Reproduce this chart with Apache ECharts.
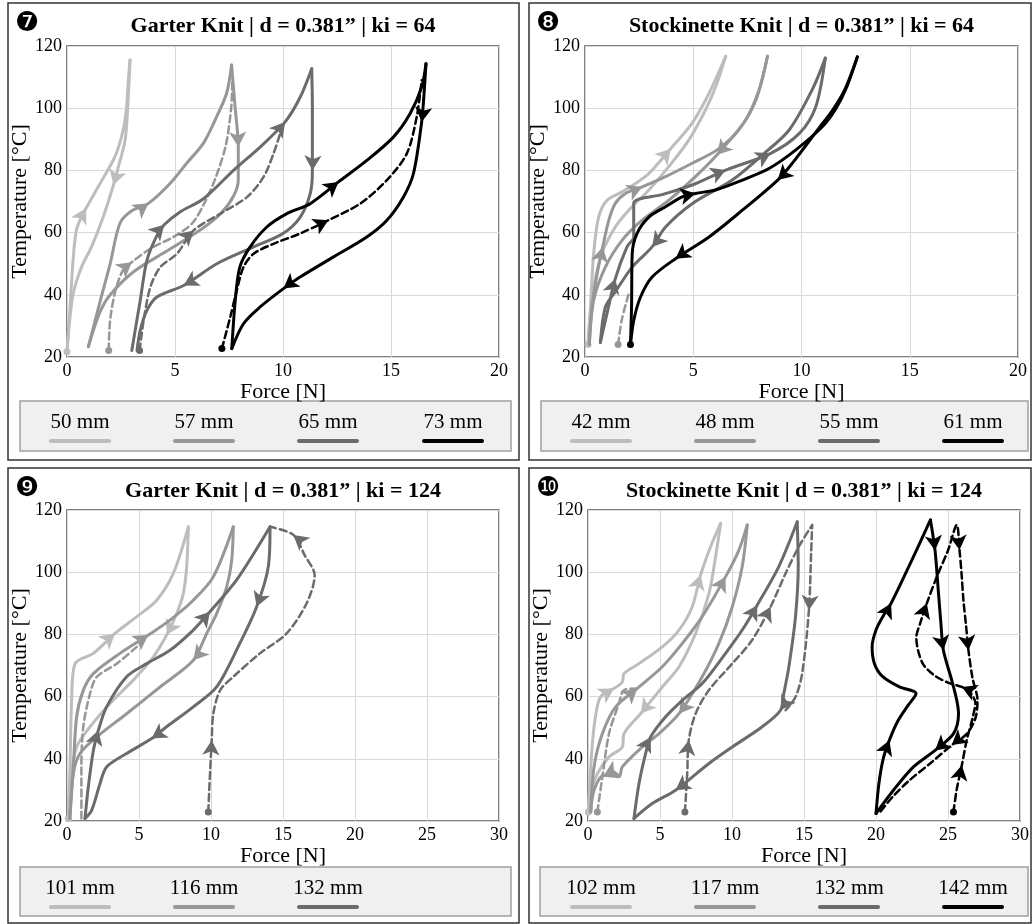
<!DOCTYPE html>
<html><head><meta charset="utf-8">
<script src="https://cdn.jsdelivr.net/npm/echarts@6/dist/echarts.min.js"></script>
<style>html,body{margin:0;padding:0;background:#fff;}#c{width:1032px;height:924px;}</style>
</head><body><div id="c"></div>
<script>
// ---------- DATA: [force N, temperature °C, flag] flag 1 = direction arrow, 2 = start dot ----------
// Panel 7: Garter Knit, ki = 64
const g64_legend = ['50 mm', '57 mm', '65 mm', '73 mm'];
const g64_50_heat = [[0,21.7,2],[0.14,36],[0.29,52],[0.42,60.3],[0.6,64],[0.88,67.8,1],[1.53,75.8],[2.22,84.4],[2.6,93],[2.76,100.5],[2.84,109],[2.92,115.5]];
const g64_50_cool = [[2.92,115.5],[2.81,100.2],[2.69,89.8],[2.38,81.2],[2.15,75.3,1],[1.68,65.1],[1.14,55.5],[0.68,49],[0.29,40.5],[0.11,30.8],[0,21.7]];
const g64_57_heat = [[0.99,23.3],[1.5,37],[2.0,50],[2.45,63],[3.0,67],[3.77,69.4,1],[4.77,75.8],[5.54,82.3],[6.31,88.7],[6.93,97.3],[7.39,104.8],[7.62,113.9]];
const g64_57_cool = [[7.62,113.9],[7.78,100.5],[7.93,87.6,1],[7.93,77],[7.7,71.6],[7.1,66],[6.2,61],[4.6,54],[3.1,47.5],[2.0,40],[1.5,34],[0.99,23.3]];
const g64_57_first = [[1.93,22.1,2],[2.0,32],[2.25,41.5],[2.6,48],[3.0,50.5,1],[3.9,55],[4.9,58.5],[5.8,63],[6.4,70],[6.9,78],[7.35,88],[7.6,100],[7.65,108]];
const g64_65_heat = [[3.0,22.1],[3.39,38.2],[3.7,51.1],[4.16,59],[4.5,62.5,1],[5.2,66.5],[6.32,70.9],[7.71,80],[8.94,87.5],[10.1,95.6,1],[10.8,103.6],[11.33,112.7]];
const g64_65_cool = [[11.33,112.7],[11.36,100],[11.36,91.8],[11.36,80,1],[11.26,72.5],[10.8,65],[10.0,59.7],[8.64,55.4],[6.94,50],[5.4,43,1],[4.16,39.3],[3.7,35],[3.39,28.6],[3.24,22.1]];
const g64_65_first = [[3.36,22.1,2],[3.55,31.8],[3.86,42.5],[4.32,48.9],[5.09,53.2],[5.86,60.7,1],[7.1,66.1],[8.33,71.4],[9.1,77.9],[9.56,85.4],[9.87,91.8],[10.02,95]];
const g64_73_heat = [[7.63,22.7],[7.79,38.2],[8.0,48.9],[8.48,55.4],[9.25,61.8],[10.18,66.1],[11.26,69.3],[12.57,76.3,1],[13.88,83.2],[15.11,90.7],[15.88,98.2],[16.42,106.8],[16.62,114.3]];
const g64_73_cool = [[16.62,114.3],[16.53,104.7],[16.42,95.6,1],[16.04,79],[15.57,71.4],[14.8,63.9],[13.88,58.6],[12.34,52.2],[10.79,45.7],[10.02,42,1],[8.94,36.1],[8.17,30.7],[7.63,22.7]];
const g64_73_first = [[7.17,22.7,2],[7.56,32.9],[7.86,41.4],[8.17,48.9],[8.64,53.2],[9.56,56.4],[10.79,59.7],[12.1,64,1],[13.57,69.3],[14.8,76.8],[15.73,85.4],[16.19,97.2],[16.42,109]];

// Panel 8: Stockinette Knit, ki = 64
const s64_legend = ['42 mm', '48 mm', '55 mm', '61 mm'];
const s64_42_heat = [[0.14,24,2],[0.25,36],[0.4,53.2],[0.63,65],[1.02,70.4],[1.71,73.1],[2.33,75.8],[2.95,79],[3.96,87,1],[4.95,95.2],[5.73,104.8],[6.5,116.7]];
const s64_42_cool = [[6.5,116.7],[6.04,107],[5.57,99.5],[4.8,89.8],[3.87,81.2],[2.95,73.7],[2.02,67.2],[1.4,61.8],[0.78,53.2],[0.4,42.5],[0.2,30.6],[0.14,24]];
const s64_48_heat = [[0.2,24],[0.32,36],[0.56,46.8],[0.82,55.4,1],[1.1,64],[1.4,69.4],[1.87,72.6],[2.64,74.7,1],[3.72,78],[4.95,82.3],[6.1,86.6],[7.1,93],[7.9,102.7],[8.43,116.7]];
const s64_48_cool = [[8.43,116.7],[8.04,105.9],[7.42,96.2],[6.1,85,1],[5.1,78],[3.87,70.4],[2.64,64],[1.71,57.5],[0.94,48.9],[0.4,38.2],[0.2,24]];
const s64_55_heat = [[0.71,24.7],[1.05,35],[1.4,45.2,1],[1.94,55.4],[2.25,58.6],[2.25,69.4],[3.6,72.3],[4.95,75.3],[6.5,80.1,1],[8.58,85.5,1],[9.9,91.9],[10.66,100.5],[11.1,116.1]];
const s64_55_cool = [[11.1,116.1],[10.5,106],[9.43,93],[8.2,85],[6.8,76.9],[4.95,69.3],[3.72,61.8],[3.1,55.4,1],[2.18,48.9],[1.4,41],[0.94,36],[0.71,24.7]];
const s64_55_first = [[1.53,24,2],[1.7,32],[2.02,40.3]];
const s64_61_heat = [[2.1,24,2],[2.15,36],[2.18,53.2],[2.4,59.7],[2.95,65],[3.72,68.3],[4.49,71.5],[5.1,72.6,1],[6.03,73.7],[7.27,76.9],[8.5,80.6],[9.74,86.6],[10.97,94.1],[11.6,100],[12.1,107],[12.58,116.5]];
const s64_61_cool = [[12.58,116.5],[12.0,106],[11.4,99],[10.9,94.5],[10.2,88],[9.6,82.5],[8.9,76.9,1],[7.27,67.2],[5.73,58.6],[4.18,51.6,1],[3.1,45.7],[2.56,39.2],[2.25,31.7],[2.1,24]];

// Panel 9: Garter Knit, ki = 124
const g124_legend = ['101 mm', '116 mm', '132 mm'];
const g124_101_heat = [[0.09,20.8,2],[0.21,37.4],[0.32,58.8],[0.56,70.6],[1.83,73.9],[3.33,80.3,1],[4.84,85.7],[6.23,91],[7.38,99.6],[8.43,114.6]];
const g124_101_cool = [[8.43,114.6],[8.31,101.8],[8.08,93.2],[7.62,86.7],[6.92,79.8,1],[6.0,72.8],[4.6,65.3],[2.99,57.8],[1.6,50.3],[0.67,43.8],[0.21,32],[0.09,20.8]];
const g124_116_heat = [[0.2,20.8],[0.44,37.4],[0.67,53.5],[1.13,62],[1.83,67.4],[3.68,73.9],[5.65,79.8,1],[7.15,84.6],[8.77,91],[10.16,98.5],[11.55,114.6]];
const g124_116_cool = [[11.55,114.6],[11.44,103.9],[11.09,95.3],[10.39,86.7],[9.7,80.3],[8.77,71.7,1],[6.46,63.1],[4.14,54.5],[2.06,47],[0.9,41.7],[0.44,35.2],[0.2,20.8]];
const g124_116_first = [[1.0,20.8],[1.0,37.4],[1.13,50.3],[1.6,61],[2.06,66.3],[3.45,70.6],[4.84,76],[5.65,79.8]];
const g124_132_heat = [[1.25,20.8],[1.48,31],[1.83,42.7],[2.18,49.2,1],[2.75,56.7],[4.14,66.4],[5.53,70.6],[7.15,74.9],[8.77,81.4],[9.93,87.3,1],[11.78,97.5],[14.1,114.6]];
const g124_132_cool = [[14.1,114.6],[13.98,101.8],[13.17,88.9,1],[12.0,77.1],[10.39,63.1],[8.77,56.7],[6.92,50.3],[5.88,46.5,1],[4.14,41.7],[2.75,37.4],[2.29,32],[1.71,23.4],[1.25,20.8]];
const g124_132_first = [[9.81,22.9,2],[9.93,35.2],[10.05,46,1],[10.16,54.5],[10.63,62],[11.55,66.4],[13.4,73.9],[15.25,80.3],[16.64,90],[17.2,99],[16.5,105.5],[15.72,112,1],[14.1,114.6]];

// Panel 10: Stockinette Knit, ki = 124
const s124_legend = ['102 mm', '117 mm', '132 mm', '142 mm'];
const s124_102_heat = [[0.02,22.9,2],[0.19,37.4],[0.42,50.3],[0.76,58.8],[1.23,61.5],[1.8,62.6,1],[2.38,64.7],[2.5,67.4],[3.54,70.6],[5.16,76],[6.32,81.4],[7.24,88.9],[7.82,99.1,1],[8.51,108.2],[9.21,115.7]];
const s124_102_cool = [[9.21,115.7],[8.86,105],[8.4,93.2],[7.47,80.3],[6.32,69.6],[5.16,63.1],[3.65,54.5,1],[2.5,48.1],[2.38,43.8],[1.46,40.6],[0.65,35.2],[0.19,28.8],[0.02,22.9]];
const s124_117_heat = [[0.19,22.9],[0.42,37.4],[1.0,48.1],[1.92,56.7],[3.42,62.6,1],[5.16,69.6],[6.55,77.1],[7.93,85.7],[9.55,98.5,1],[10.48,107.1],[11.06,115.2]];
const s124_117_cool = [[11.06,115.2],[10.71,101.8],[10.02,88.9],[9.09,77.1],[7.93,66.4],[6.32,54.5,1],[4.93,48.1],[3.77,43.8],[2.38,37.4],[2.15,34.2],[1.11,34.7,1],[0.42,29.9],[0.19,22.9]];
const s124_117_first = [[0.65,22.9,2],[1.0,34.2],[1.46,48.1],[2.15,57.8],[2.5,62.1],[3.42,62.6]];
const s124_132_heat = [[3.19,20.8],[3.54,32],[4.0,41.7],[4.35,47,1],[5.39,53.5],[6.55,58.8],[7.93,64.2],[9.55,73.9],[10.71,81.4],[11.75,89.4,1],[13.25,101.8],[14.53,116.2]];
const s124_132_cool = [[14.53,116.2],[14.6,101.8],[14.41,85.7],[13.95,69.6],[13.6,61],[13.37,55.6,1],[12.1,50.3],[10.02,43.8],[8.4,38.5],[6.08,29.9,1],[4.46,25.6],[3.19,20.8]];
const s124_132_first = [[6.73,22.9,2],[6.89,35.2],[7.0,46,1],[7.47,54.5],[8.4,62.1],[10.02,70.6],[11.4,78.2],[12.68,88.9,1],[13.72,99.6],[14.64,108.2],[15.57,115.2],[15.5,107],[15.34,87.8,1],[14.87,67.4],[14.41,59.9],[13.72,55.6]];
const s124_142_heat = [[20,22.4],[20.2,32],[20.5,40],[20.93,46,1],[21.5,52],[22.2,57],[22.78,61],[21.63,63.1],[20.47,66.4],[19.89,70.6],[19.73,76],[20.0,81.4],[20.47,85.7],[21.05,90,1],[22.4,103],[23.78,116.8]];
const s124_142_cool = [[23.78,116.8],[24.1,107,1],[24.34,93.2],[24.5,84],[24.68,74.9,1],[25.26,65.3],[25.61,58.8],[25.73,54.5],[25.38,48.1],[24.1,42.7,1],[22.6,37.4],[21.21,29.9],[20,22.4]];
const s124_142_first = [[25.38,22.9,2],[25.6,30],[25.96,37.9,1],[26.3,46],[26.7,53],[26.9,58],[26.5,61.5],[25.96,63.1,1],[25,64.5],[24,67],[23.2,71],[22.8,79],[23.1,84],[23.53,90,1],[24.22,98.5],[25.0,107],[25.61,115.2],[25.8,107.1,1],[25.95,99],[26.07,91],[26.25,83],[26.42,74.9,1],[26.7,66],[27.05,58.8],[26.9,53],[26.3,48],[25.26,44.4,1],[23.76,38.5],[22.3,33],[21.2,28],[20.3,23]];

const xTicks20 = [0, 5, 10, 15, 20];
const xTicks30 = [0, 5, 10, 15, 20, 25, 30];
const yTicks = [20, 40, 60, 80, 100, 120];

// ---------- STYLE / LAYOUT ----------
const SHADES = ['#bdbdbd', '#979797', '#6b6b6b', '#000000'];
const SERIF = "'Liberation Serif','Times New Roman',serif";

const panels = [
  { badge: '\u277C', title: 'Garter Knit | d = 0.381\u201D | ki = 64', ticks: xTicks20, legend: g64_legend,
    box: [8, 3, 511, 457], grid: [67, 46, 432, 311], legBox: [20, 401, 491, 50], legX: [80, 204, 328, 453],
    curves: [[g64_50_heat,0,0],[g64_50_cool,0,0],[g64_57_heat,1,0],[g64_57_cool,1,0],[g64_57_first,1,1],
             [g64_65_heat,2,0],[g64_65_cool,2,0],[g64_65_first,2,1],[g64_73_heat,3,0],[g64_73_cool,3,0],[g64_73_first,3,1]] },
  { badge: '\u277D', title: 'Stockinette Knit | d = 0.381\u201D | ki = 64', ticks: xTicks20, legend: s64_legend,
    box: [529, 3, 502, 457], grid: [585, 46, 433, 311], legBox: [541, 401, 487, 50], legX: [601, 725, 849, 973],
    curves: [[s64_42_heat,0,0],[s64_42_cool,0,0],[s64_48_heat,1,0],[s64_48_cool,1,0],
             [s64_55_heat,2,0],[s64_55_cool,2,0],[s64_55_first,1,1],[s64_61_heat,3,0],[s64_61_cool,3,0]] },
  { badge: '\u277E', title: 'Garter Knit | d = 0.381\u201D | ki = 124', ticks: xTicks30, legend: g124_legend,
    box: [8, 468, 511, 455], grid: [67, 510, 432, 311], legBox: [20, 867, 491, 49], legX: [80, 204, 328],
    curves: [[g124_101_heat,0,0],[g124_101_cool,0,0],[g124_116_heat,1,0],[g124_116_cool,1,0],[g124_116_first,1,1],
             [g124_132_heat,2,0],[g124_132_cool,2,0],[g124_132_first,2,1]] },
  { badge: '\u277F', title: 'Stockinette Knit | d = 0.381\u201D | ki = 124', ticks: xTicks30, legend: s124_legend,
    box: [529, 468, 502, 455], grid: [588, 510, 432, 311], legBox: [540, 867, 488, 49], legX: [601, 725, 849, 973],
    curves: [[s124_102_heat,0,0],[s124_102_cool,0,0],[s124_117_heat,1,0],[s124_117_cool,1,0],[s124_117_first,1,1],
             [s124_132_heat,2,0],[s124_132_cool,2,0],[s124_132_first,2,1],
             [s124_142_heat,3,0],[s124_142_cool,3,0],[s124_142_first,3,1]] }
];

const chart = echarts.init(document.getElementById('c'), null, { renderer: 'canvas' });
const grids = [], xAxes = [], yAxes = [], series = [], graphics = [];

panels.forEach((p, i) => {
  const [gl, gt, gw, gh] = p.grid;
  grids.push({ left: gl, top: gt, width: gw, height: gh, show: true, borderColor: '#555', borderWidth: 1.5, backgroundColor: 'transparent' });
  const xmax = p.ticks[p.ticks.length - 1];
  xAxes.push({
    type: 'value', gridIndex: i, min: p.ticks[0], max: xmax, interval: p.ticks[1] - p.ticks[0],
    axisLine: { show: false }, axisTick: { show: false },
    axisLabel: { fontFamily: SERIF, fontSize: 18, color: '#000', margin: 5 },
    splitLine: { show: true, lineStyle: { color: '#d9d9d9', width: 1 } },
    name: 'Force [N]', nameLocation: 'middle', nameGap: 18,
    nameTextStyle: { fontFamily: SERIF, fontSize: 22, color: '#000' }
  });
  yAxes.push({
    type: 'value', gridIndex: i, min: yTicks[0], max: yTicks[yTicks.length - 1], interval: yTicks[1] - yTicks[0],
    axisLine: { show: false }, axisTick: { show: false },
    axisLabel: { fontFamily: SERIF, fontSize: 18, color: '#000', margin: 5 },
    splitLine: { show: true, lineStyle: { color: '#d9d9d9', width: 1 } },
    name: 'Temperature [\u00B0C]', nameLocation: 'middle', nameGap: 31, nameRotate: 90,
    nameTextStyle: { fontFamily: SERIF, fontSize: 22, color: '#000' }
  });
  p.curves.forEach(([arr, shade, dashed]) => {
    const col = SHADES[shade];
    series.push({
      type: 'line', xAxisIndex: i, yAxisIndex: i, smooth: 0.3,
      symbol: 'none', showSymbol: true, silent: true, animation: false,
      z: 2 + shade,
      lineStyle: { color: col, width: dashed ? 2.5 : 3, type: dashed ? [7, 4] : 'solid', cap: 'round', join: 'round' },
      itemStyle: { color: col },
      data: arr.map(pt => {
        if (pt[2] === 1) return { value: [pt[0], pt[1]], symbol: 'arrow', symbolSize: [13, 15], symbolRotate: 0, itemStyle: { color: col } };
        if (pt[2] === 2) return { value: [pt[0], pt[1]], symbol: 'circle', symbolSize: 7, itemStyle: { color: col } };
        return [pt[0], pt[1]];
      }),
      _raw: arr, _panel: i
    });
  });
  // panel frame
  const [bx, by, bw, bh] = p.box;
  graphics.push({ type: 'rect', shape: { x: bx, y: by, width: bw, height: bh }, style: { fill: 'none', stroke: '#333', lineWidth: 1.5 }, z: 0 });
  // badge and title
  graphics.push({ type: 'text', x: bx + 19, y: by + 21, style: { text: p.badge, font: "27px 'DejaVu Sans'", fill: '#000', textAlign: 'center', textVerticalAlign: 'middle' } });
  graphics.push({ type: 'text', x: gl + gw / 2, y: by + 23, style: { text: p.title, font: "bold 22px " + SERIF, fill: '#000', textAlign: 'center', textVerticalAlign: 'middle' } });
  // legend
  const [lx, ly, lw, lh] = p.legBox;
  graphics.push({ type: 'rect', shape: { x: lx, y: ly, width: lw, height: lh }, style: { fill: '#f0f0f0', stroke: '#a0a0a0', lineWidth: 1.5 } });
  p.legend.forEach((lab, k) => {
    const cx = p.legX[k];
    graphics.push({ type: 'text', x: cx, y: ly + 21, style: { text: lab, font: "21px " + SERIF, fill: '#000', textAlign: 'center', textVerticalAlign: 'middle' } });
    graphics.push({ type: 'line', shape: { x1: cx - 29, y1: ly + 40, x2: cx + 29, y2: ly + 40 }, style: { stroke: SHADES[k], lineWidth: 4, lineCap: 'round' } });
  });
});

const option = {
  backgroundColor: '#fff', animation: false,
  grid: grids, xAxis: xAxes, yAxis: yAxes,
  series: series.map(s => { const c = Object.assign({}, s); delete c._raw; delete c._panel; return c; }),
  graphic: graphics
};
chart.setOption(option);

// orient arrowheads along the direction of travel, using the library's own coordinate conversion
const rotated = series.map(s => {
  const arr = s._raw, i = s._panel;
  const data = s.data.map((d, k) => {
    if (arr[k][2] !== 1) return d;
    const a = arr[Math.max(0, k - 1)], b = arr[Math.min(arr.length - 1, k + 1)];
    const pa = chart.convertToPixel({ xAxisIndex: i, yAxisIndex: i }, [a[0], a[1]]);
    const pb = chart.convertToPixel({ xAxisIndex: i, yAxisIndex: i }, [b[0], b[1]]);
    const dx = pb[0] - pa[0], dy = pb[1] - pa[1];
    const ang = Math.atan2(-dx, -dy) * 180 / Math.PI;
    return Object.assign({}, d, { symbolRotate: ang });
  });
  return { data };
});
chart.setOption({ series: rotated });
</script>
</body></html>
